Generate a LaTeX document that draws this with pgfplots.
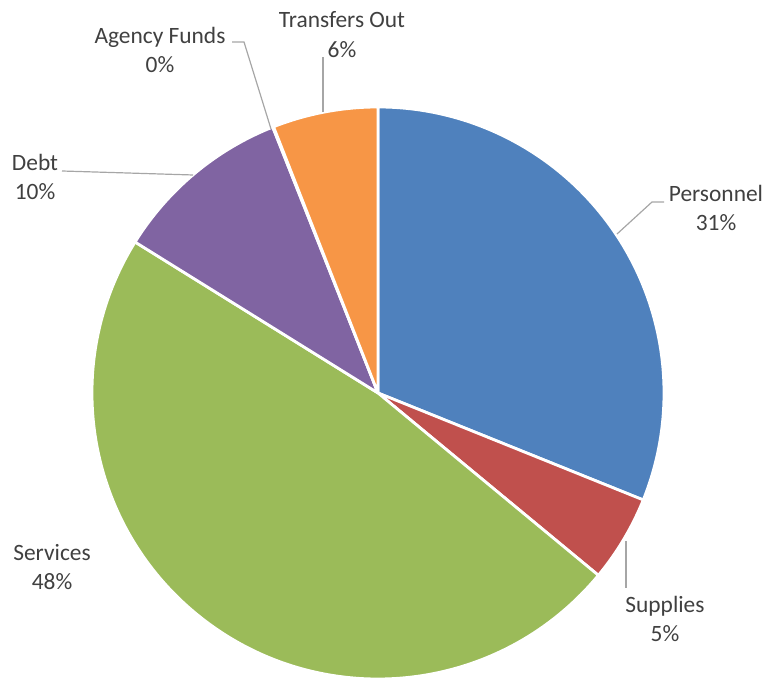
\documentclass[border=0pt]{standalone}
\usepackage{fontspec}
\setmainfont{Carlito}
\usepackage{pgfplots}
\usepackage{pgfplotstable}
\pgfplotsset{compat=1.18}

\definecolor{pBlue}{HTML}{4F81BD}
\definecolor{pRed}{HTML}{C0504D}
\definecolor{pGreen}{HTML}{9BBB59}
\definecolor{pPurple}{HTML}{8064A2}
\definecolor{pAqua}{HTML}{4BACC6}
\definecolor{pOrange}{HTML}{F79646}
\definecolor{txt}{HTML}{404040}
\definecolor{lead}{HTML}{A6A6A6}

% share of each slice in percent, clockwise from 12 o'clock
\pgfplotstableread{
label value color
Personnel 31.1 pBlue
Supplies 4.9 pRed
Services 47.85 pGreen
Debt 10.15 pPurple
Agency 0.05 pAqua
Transfers 5.95 pOrange
}\piedata

\begin{document}
\begin{tikzpicture}
\begin{axis}[
    x=1bp, y=1bp,
    xmin=0, xmax=772, ymin=0, ymax=679,
    axis line style={draw=none}, ticks=none, clip=false,
]
\def\angA{90}
\pgfplotsforeachungrouped \i in {0,...,5}{
    \pgfplotstablegetelem{\i}{value}\of\piedata \let\v\pgfplotsretval
    \pgfplotstablegetelem{\i}{color}\of\piedata \let\c\pgfplotsretval
    \pgfmathsetmacro\angB{\angA-3.6*\v}
    \edef\temp{\noexpand\fill[\c, draw=white, line width=2.8pt, line join=round]
        (axis cs:378,286) -- ++(\angA:286bp)
        arc[start angle=\angA, end angle=\angB, radius=286bp] -- cycle;}
    \temp
    \global\let\angA\angB
}

% leader lines
\draw[lead, line width=1.2pt] (axis cs:323,567) -- (axis cs:323,622);
\draw[lead, line width=1.2pt] (axis cs:271,550) -- (axis cs:244,637) -- (axis cs:232,637);
\draw[lead, line width=1.2pt] (axis cs:193,504) -- (axis cs:62,508);
\draw[lead, line width=1.2pt] (axis cs:617,445) -- (axis cs:652,477) -- (axis cs:664,477);
\draw[lead, line width=1.2pt] (axis cs:626,138) -- (axis cs:626,91);

% data labels
\tikzset{lbl/.style={text=txt, align=center, font=\fontsize{23.5}{30}\selectfont, inner sep=0pt}}
\node[lbl] at (axis cs:342,644) {Transfers Out\\6\%};
\node[lbl] at (axis cs:160,629) {Agency Funds\\0\%};
\node[lbl] at (axis cs:35,502) {Debt\\10\%};
\node[lbl] at (axis cs:716,471) {Personnel\\31\%};
\node[lbl] at (axis cs:665,60) {Supplies\\5\%};
\node[lbl] at (axis cs:52,112) {Services\\48\%};
\end{axis}
\pgfresetboundingbox
\useasboundingbox (current axis.south west) rectangle (current axis.north east);
\end{tikzpicture}
\end{document}
